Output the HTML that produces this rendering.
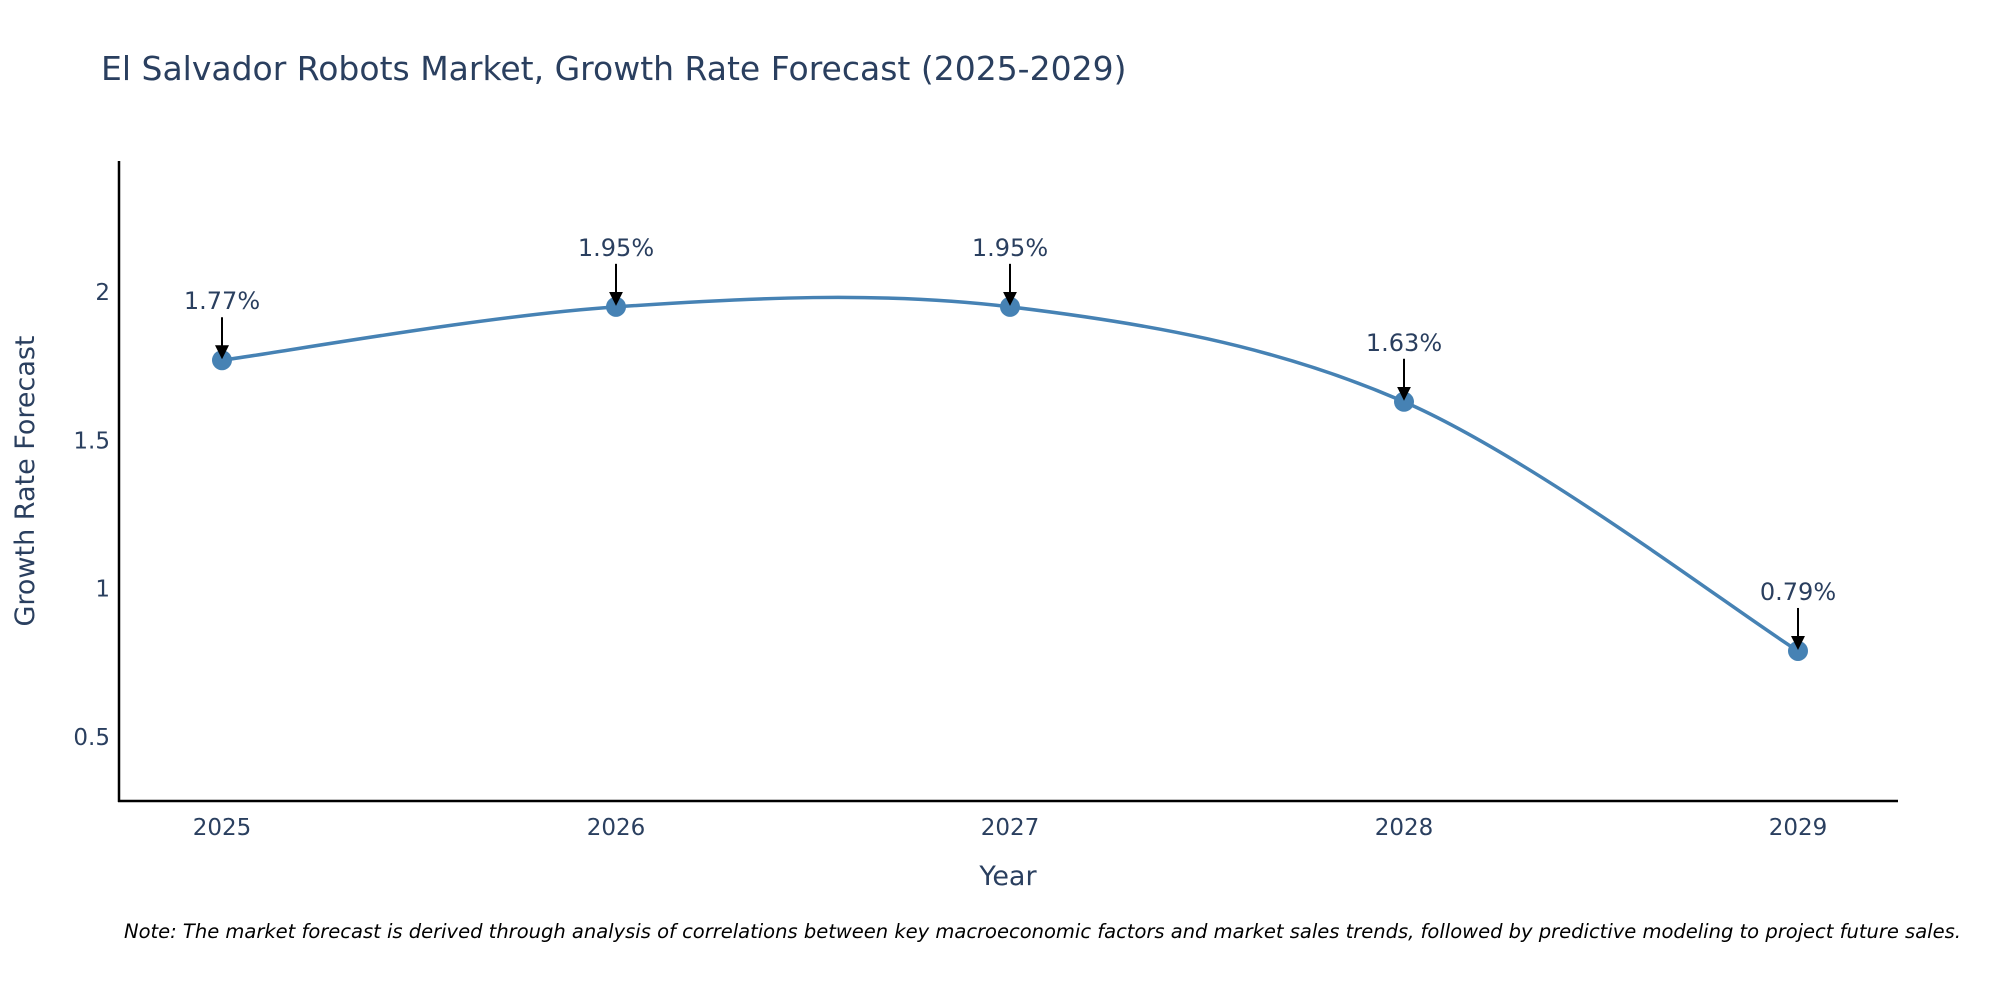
<!DOCTYPE html>
<html><head><meta charset="utf-8">
<style>
body{margin:0;background:#fff;}
svg text{font-family:"DejaVu Sans","Liberation Sans",sans-serif;fill:#2a3f5f;}
</style></head>
<body>
<svg id="chart" width="2000" height="1000" xmlns="http://www.w3.org/2000/svg">
<defs><marker id="ah" markerWidth="14" markerHeight="14" refX="11" refY="7" orient="auto" markerUnits="userSpaceOnUse" viewBox="0 0 14 14"><path d="M0,0 L14,7 L0,14 z" fill="#000"/></marker></defs>
<text x="101" y="80" font-size="33">El Salvador Robots Market, Growth Rate Forecast (2025-2029)</text>
<g id="plot"></g>
<line x1="119" y1="161" x2="119" y2="802" stroke="#000" stroke-width="2.5"/>
<line x1="118" y1="801" x2="1898" y2="801" stroke="#000" stroke-width="2.5"/>
<text x="1008" y="885" font-size="27" text-anchor="middle">Year</text>
<text transform="translate(34,481) rotate(-90)" font-size="27" text-anchor="middle">Growth Rate Forecast</text>
<text x="124" y="938" font-size="19.5" font-style="italic" style="font-family:'DejaVu Sans',sans-serif;fill:#000">Note: The market forecast is derived through analysis of correlations between key macroeconomic factors and market sales trends, followed by predictive modeling to project future sales.</text>
</svg>
<script>
const years=[2025,2026,2027,2028,2029];
const values=[1.77,1.95,1.95,1.63,0.79];
const labels=["1.77%","1.95%","1.95%","1.63%","0.79%"];
const yTicks=[0.5,1,1.5,2];
const ns="http://www.w3.org/2000/svg";
const g=document.getElementById('plot');
function xs(v){return 222+(v-2025)*394;}
function ys(v){return 292+(2-v)*(445/1.5);}
function mk(t,a){const e=document.createElementNS(ns,t);for(const k in a)e.setAttribute(k,a[k]);return e;}
yTicks.forEach(t=>{const e=mk('text',{x:110,y:ys(t)+8,'font-size':23,'text-anchor':'end'});


e.textContent=String(t);g.appendChild(e);});
years.forEach(y=>{const e=mk('text',{x:xs(y),y:835,'font-size':23,'text-anchor':'middle'});


e.textContent=String(y);g.appendChild(e);});
const P=years.map((y,i)=>[xs(y),ys(values[i])]);
let d='M'+P[0][0]+','+P[0][1];
for(let i=0;i<P.length-1;i++){const p0=P[Math.max(i-1,0)],p1=P[i],p2=P[i+1],p3=P[Math.min(i+2,P.length-1)];
const c1=[p1[0]+(p2[0]-p0[0])/6,p1[1]+(p2[1]-p0[1])/6],c2=[p2[0]-(p3[0]-p1[0])/6,p2[1]-(p3[1]-p1[1])/6];
d+=' C'+c1+' '+c2+' '+p2;}
const line=mk('path',{d:d,fill:'none',stroke:'#4682b4','stroke-width':3.5});


g.appendChild(line);
P.forEach((p,i)=>{
const c=mk('circle',{cx:p[0],cy:p[1],r:10,fill:'#4682b4'});


g.appendChild(c);
const a=mk('line',{x1:p[0],y1:p[1]-43,x2:p[0],y2:p[1]-4,stroke:'#000','stroke-width':2,'marker-end':'url(#ah)'});


g.appendChild(a);
const t=mk('text',{x:p[0],y:p[1]-51,'font-size':24,'text-anchor':'middle'});


t.textContent=labels[i];g.appendChild(t);});
</script>
</body></html>
